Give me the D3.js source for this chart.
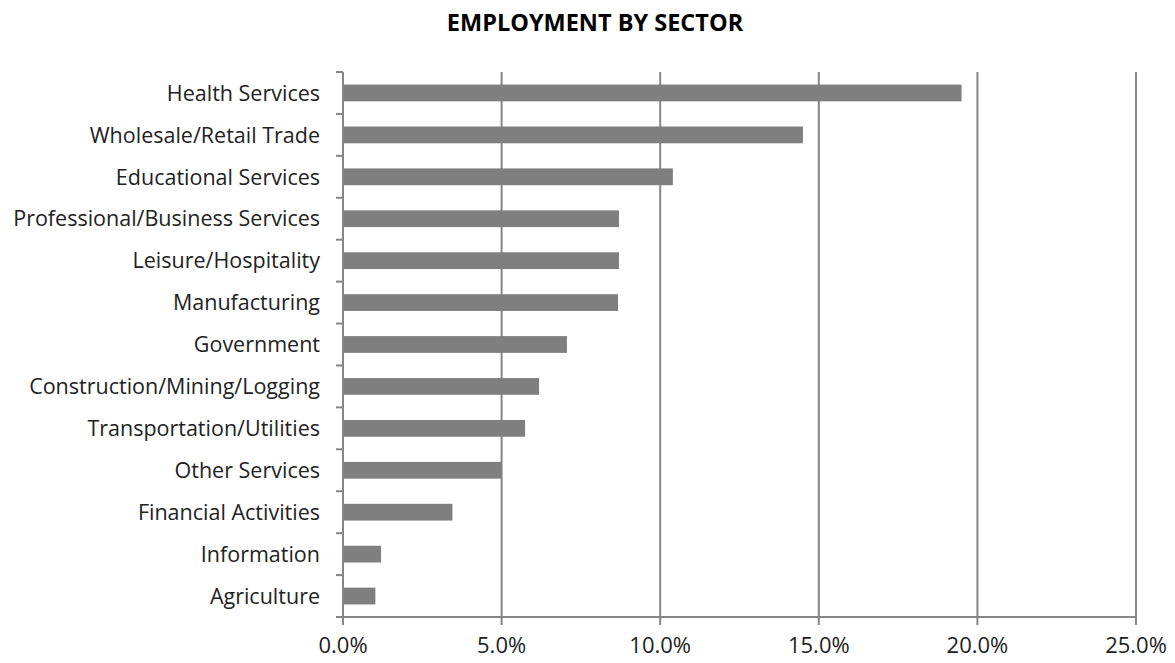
<!DOCTYPE html>
<html>
<head>
<meta charset="utf-8">
<script src="https://cdn.jsdelivr.net/npm/d3@7"></script>
<style>
  body { margin: 0; background: #fff; }
  svg { display: block; }
  text { font-family: "Open Sans", "Liberation Sans", sans-serif; fill: #222; }
</style>
</head>
<body>
<div id="chart"></div>
<script>
const sectors = [
  'Health Services', 'Wholesale/Retail Trade', 'Educational Services',
  'Professional/Business Services', 'Leisure/Hospitality', 'Manufacturing',
  'Government', 'Construction/Mining/Logging', 'Transportation/Utilities',
  'Other Services', 'Financial Activities', 'Information', 'Agriculture'
];
const shares = [19.5, 14.5, 10.4, 8.7, 8.7, 8.67, 7.06, 6.18, 5.74, 5.0, 3.45, 1.2, 1.02];
const xTicks = [0, 5, 10, 15, 20, 25];

const width = 1175, height = 663;
const margin = { top: 72, right: 39, bottom: 46, left: 343 };

const svg = d3.select('#chart').append('svg')
  .attr('width', width)
  .attr('height', height);

const x = d3.scaleLinear()
  .domain([0, 25])
  .range([margin.left, width - margin.right]);

const y = d3.scaleBand()
  .domain(sectors)
  .range([margin.top, height - margin.bottom])
  .paddingInner(0.6)
  .paddingOuter(0.3);

// vertical gridlines
svg.append('g')
  .selectAll('line')
  .data(xTicks.slice(1))
  .enter().append('line')
  .attr('x1', d => x(d)).attr('x2', d => x(d))
  .attr('y1', margin.top).attr('y2', height - margin.bottom)
  .attr('stroke', '#868686')
  .attr('stroke-width', 2);

// bars
svg.append('g')
  .selectAll('rect')
  .data(sectors)
  .enter().append('rect')
  .attr('x', x(0))
  .attr('y', d => y(d))
  .attr('width', (d, i) => x(shares[i]) - x(0))
  .attr('height', y.bandwidth())
  .attr('fill', '#7f7f7f');

// y axis
const yAxis = svg.append('g')
  .attr('transform', `translate(${x(0)},0)`);
yAxis.append('line')
  .attr('x1', 0).attr('x2', 0)
  .attr('y1', margin.top).attr('y2', height - margin.bottom + 7)
  .attr('stroke', '#868686').attr('stroke-width', 2);
const step = y.step();
yAxis.selectAll('line.tick')
  .data(d3.range(sectors.length + 1))
  .enter().append('line')
  .attr('class', 'tick')
  .attr('x1', -7).attr('x2', 0)
  .attr('y1', i => margin.top + i * step)
  .attr('y2', i => margin.top + i * step)
  .attr('stroke', '#868686').attr('stroke-width', 2);
yAxis.selectAll('text')
  .data(sectors)
  .enter().append('text')
  .attr('x', -23)
  .attr('y', d => y(d) + y.bandwidth() / 2)
  .attr('dy', '0.36em')
  .attr('text-anchor', 'end')
  .style('font-size', '21.5px')
  .text(d => d);

// x axis
const xAxis = svg.append('g')
  .attr('transform', `translate(0,${height - margin.bottom})`);
xAxis.append('line')
  .attr('x1', x(0) - 7).attr('x2', x(25))
  .attr('stroke', '#868686').attr('stroke-width', 2);
xAxis.selectAll('line.tick')
  .data(xTicks)
  .enter().append('line')
  .attr('class', 'tick')
  .attr('x1', d => x(d)).attr('x2', d => x(d))
  .attr('y1', 0).attr('y2', 8)
  .attr('stroke', '#868686').attr('stroke-width', 2);
xAxis.selectAll('text')
  .data(xTicks)
  .enter().append('text')
  .attr('x', d => x(d))
  .attr('y', 36)
  .attr('text-anchor', 'middle')
  .style('font-size', '22px')
  .text(d => d3.format('.1f')(d) + '%');

// title
svg.append('text')
  .attr('x', 595)
  .attr('y', 31)
  .attr('text-anchor', 'middle')
  .style('font-size', '23.5px')
  .style('font-weight', 'bold')
  .style('fill', '#000')
  .text('EMPLOYMENT BY SECTOR');
</script>
</body>
</html>
